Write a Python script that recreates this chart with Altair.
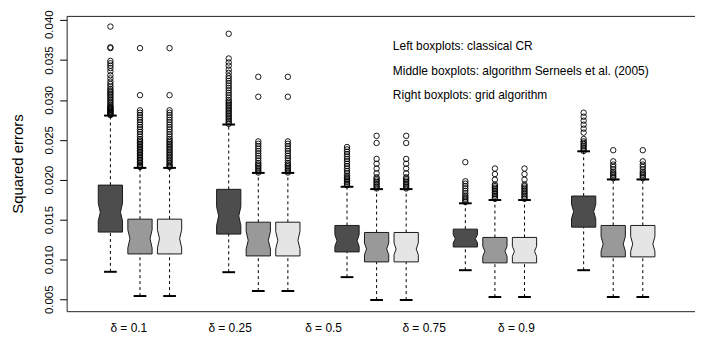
import altair as alt
import pandas as pd

# ---------------- data ----------------
delta_labels = ["δ = 0.1", "δ = 0.25", "δ = 0.5", "δ = 0.75", "δ = 0.9"]
label_pos = [1.605, 5.03, 8.19, 11.59, 14.71]
methods = ["classical CR", "algorithm Serneels et al. (2005)", "grid algorithm"]
method_colors = ["#4d4d4d", "#999999", "#e5e5e5"]

legend_lines = [
    "Left boxplots: classical CR",
    "Middle boxplots: algorithm Serneels et al. (2005)",
    "Right boxplots: grid algorithm",
]
legend_x = [10.55, 10.55, 10.55]
legend_y = [0.03622, 0.03311, 0.03012]

# classical CR (left, dark)
cr_q1 = [0.01343, 0.01318, 0.01094, 0.01156, 0.01405]
cr_med = [0.01592, 0.01546, 0.01235, 0.01260, 0.01600]
cr_q3 = [0.01932, 0.01879, 0.01426, 0.01380, 0.01795]
cr_nlo = [0.01484, 0.01425, 0.01164, 0.01206, 0.01509]
cr_nhi = [0.01704, 0.01662, 0.01310, 0.01310, 0.01692]
cr_wlo = [0.00845, 0.00840, 0.00778, 0.00865, 0.00865]
cr_whi = [0.02804, 0.02692, 0.01911, 0.01704, 0.02356]

# Serneels et al. (middle, medium grey)
se_q1 = [0.01069, 0.01044, 0.00969, 0.00957, 0.01032]
se_med = [0.01260, 0.01239, 0.01131, 0.01102, 0.01194]
se_q3 = [0.01505, 0.01467, 0.01338, 0.01276, 0.01426]
se_nlo = [0.01144, 0.01131, 0.01060, 0.01039, 0.01102]
se_nhi = [0.01372, 0.01351, 0.01206, 0.01164, 0.01288]
se_wlo = [0.00541, 0.00604, 0.00491, 0.00529, 0.00529]
se_whi = [0.02148, 0.02085, 0.01882, 0.01745, 0.02003]

# grid algorithm (right, light grey)
gr_q1 = [0.01069, 0.01044, 0.00969, 0.00957, 0.01032]
gr_med = [0.01260, 0.01239, 0.01131, 0.01102, 0.01194]
gr_q3 = [0.01505, 0.01467, 0.01338, 0.01276, 0.01426]
gr_nlo = [0.01144, 0.01131, 0.01060, 0.01039, 0.01102]
gr_nhi = [0.01372, 0.01351, 0.01206, 0.01164, 0.01288]
gr_wlo = [0.00541, 0.00604, 0.00491, 0.00529, 0.00529]
gr_whi = [0.02148, 0.02085, 0.01882, 0.01745, 0.02003]

# outliers per delta
cr_out = [
    [0.0392, 0.0366, 0.0365, 0.0349, 0.0346, 0.0343, 0.0340, 0.0336, 0.0331, 0.0327,
     0.0323, 0.0320, 0.0317, 0.0314, 0.0312, 0.0310, 0.0308, 0.0306, 0.0304, 0.0302,
     0.0300, 0.0298, 0.0296, 0.0294, 0.0292, 0.0291, 0.0290, 0.0289, 0.0288, 0.0287,
     0.0286, 0.0285, 0.0284, 0.0283, 0.0282, 0.0281],
    [0.0383, 0.0352, 0.0347, 0.0343, 0.0338, 0.0334, 0.0330, 0.0327, 0.0324, 0.0321,
     0.0318, 0.0315, 0.0312, 0.0309, 0.0306, 0.0303, 0.0300, 0.0298, 0.0296, 0.0294,
     0.0292, 0.0290, 0.0288, 0.0286, 0.0284, 0.0282, 0.0280, 0.0278, 0.0276, 0.0274,
     0.0272, 0.0270],
    [0.0241, 0.0238, 0.0235, 0.0232, 0.0229, 0.0226, 0.0223, 0.0220, 0.0217, 0.0214,
     0.0211, 0.0208, 0.0205, 0.0203, 0.0201, 0.0199, 0.0197, 0.0195, 0.0193],
    [0.0222, 0.0198, 0.0195, 0.0192, 0.0189, 0.0186, 0.0183, 0.0180, 0.0178, 0.0176,
     0.0174, 0.0172],
    [0.0284, 0.0279, 0.0274, 0.0269, 0.0264, 0.0259, 0.0251, 0.0248, 0.0246, 0.0244,
     0.0242, 0.0240, 0.0238, 0.0236],
]
se_out = [
    [0.0365, 0.0306, 0.0287, 0.0284, 0.0281, 0.0278, 0.0275, 0.0272, 0.0269, 0.0266,
     0.0263, 0.0260, 0.0257, 0.0254, 0.0251, 0.0249, 0.0247, 0.0245, 0.0243, 0.0241,
     0.0239, 0.0237, 0.0235, 0.0233, 0.0231, 0.0229, 0.0227, 0.0225, 0.0223, 0.0221,
     0.0219, 0.0217, 0.0216],
    [0.0329, 0.0304, 0.0248, 0.0245, 0.0242, 0.0239, 0.0236, 0.0233, 0.0230, 0.0227,
     0.0224, 0.0221, 0.0219, 0.0217, 0.0215, 0.0213, 0.0211, 0.0209],
    [0.0255, 0.0246, 0.0226, 0.0220, 0.0214, 0.0208, 0.0203, 0.0201, 0.0199, 0.0197,
     0.0195, 0.0193, 0.0191, 0.0189],
    [0.0214, 0.0207, 0.0200, 0.0194, 0.0192, 0.0190, 0.0188, 0.0186, 0.0184, 0.0182,
     0.0180, 0.0178, 0.0176],
    [0.0237, 0.0223, 0.0219, 0.0216, 0.0213, 0.0210, 0.0208, 0.0206, 0.0204, 0.0202],
]
gr_out = [
    [0.0365, 0.0306, 0.0287, 0.0284, 0.0281, 0.0278, 0.0275, 0.0272, 0.0269, 0.0266,
     0.0263, 0.0260, 0.0257, 0.0254, 0.0251, 0.0249, 0.0247, 0.0245, 0.0243, 0.0241,
     0.0239, 0.0237, 0.0235, 0.0233, 0.0231, 0.0229, 0.0227, 0.0225, 0.0223, 0.0221,
     0.0219, 0.0217, 0.0216],
    [0.0329, 0.0304, 0.0248, 0.0245, 0.0242, 0.0239, 0.0236, 0.0233, 0.0230, 0.0227,
     0.0224, 0.0221, 0.0219, 0.0217, 0.0215, 0.0213, 0.0211, 0.0209],
    [0.0255, 0.0246, 0.0226, 0.0220, 0.0214, 0.0208, 0.0203, 0.0201, 0.0199, 0.0197,
     0.0195, 0.0193, 0.0191, 0.0189],
    [0.0214, 0.0207, 0.0200, 0.0194, 0.0192, 0.0190, 0.0188, 0.0186, 0.0184, 0.0182,
     0.0180, 0.0178, 0.0176],
    [0.0237, 0.0223, 0.0219, 0.0216, 0.0213, 0.0210, 0.0208, 0.0206, 0.0204, 0.0202],
]

# ---------------- build tables ----------------
stats = [
    (cr_q1, cr_med, cr_q3, cr_nlo, cr_nhi, cr_wlo, cr_whi, cr_out),
    (se_q1, se_med, se_q3, se_nlo, se_nhi, se_wlo, se_whi, se_out),
    (gr_q1, gr_med, gr_q3, gr_nlo, gr_nhi, gr_wlo, gr_whi, gr_out),
]

HALF = 0.41     # half box width (x units)
NOTCH = 0.07    # notch indentation
CAP = 0.215     # half staple width

box_rows, whisk_rows, cap_rows, out_rows = [], [], [], []
for j, (q1, med, q3, nlo, nhi, wlo, whi, outs) in enumerate(stats):
    for g in range(len(delta_labels)):
        p = 4 * g + j + 1
        bid = f"{g}-{j}"
        for yv, ind in [(q1[g], 0), (nlo[g], 0), (med[g], NOTCH), (nhi[g], 0), (q3[g], 0)]:
            box_rows.append({"box": bid, "method": methods[j], "y": yv,
                             "x": p - HALF + ind, "x2": p + HALF - ind})
        whisk_rows.append({"x": p, "y": q3[g], "y2": whi[g]})
        whisk_rows.append({"x": p, "y": wlo[g], "y2": q1[g]})
        cap_rows.append({"x": p - CAP, "x2": p + CAP, "y": whi[g]})
        cap_rows.append({"x": p - CAP, "x2": p + CAP, "y": wlo[g]})
        for v in outs[g]:
            out_rows.append({"x": p, "y": v})

boxes = pd.DataFrame(box_rows)
whisk = pd.DataFrame(whisk_rows)
caps = pd.DataFrame(cap_rows)
outl = pd.DataFrame(out_rows)
legend = pd.DataFrame({"x": legend_x, "y": legend_y, "t": legend_lines})

FONT = "Liberation Sans, Arial, Helvetica, sans-serif"

# label expression for x axis
expr = f"'{delta_labels[-1]}'"
for i in range(len(label_pos) - 2, -1, -1):
    mid = (label_pos[i] + label_pos[i + 1]) / 2
    expr = f"datum.value < {mid} ? '{delta_labels[i]}' : ({expr})"

xs = alt.Scale(domain=[-0.479, 20.765], nice=False, zero=False)
ys = alt.Scale(domain=[0.00351, 0.04054], nice=False, zero=False)

xaxis = alt.Axis(values=label_pos, labelExpr=expr, ticks=False, domain=False, grid=False,
                 title=None, labelFont=FONT, labelFontSize=12, labelColor="black",
                 labelPadding=11, labelFlush=False)
yaxis = alt.Axis(values=[0.005, 0.010, 0.015, 0.020, 0.025, 0.030, 0.035, 0.040],
                 format=".3f", grid=False, domain=False, ticks=True, tickSize=7,
                 tickColor="black", labelAngle=-90, labelAlign="center",
                 labelBaseline="alphabetic", labelPadding=7, labelFont=FONT,
                 labelFontSize=11.5, labelColor="black", labelFlush=False,
                 labelOffset=alt.condition("datum.value > 0.0399", alt.value(4), alt.value(0)),
                 title="Squared errors", titleFont=FONT, titleFontSize=15,
                 titleFontWeight="normal", titleColor="black", titleX=-49.5,
                 titleY=148.5, titleAlign="center", titleBaseline="middle",
                 titleAngle=-90)

X = alt.X("x:Q", scale=xs, axis=xaxis)
Y = alt.Y("y:Q", scale=ys, axis=yaxis)

whisk_layer = alt.Chart(whisk).mark_rule(color="black", strokeWidth=1, strokeDash=[3, 3]).encode(
    x=X, y=Y, y2="y2:Q")

box_layer = alt.Chart(boxes).mark_area(orient="horizontal", stroke="#1a1a1a", strokeWidth=1,
                                       opacity=1, strokeJoin="miter").encode(
    y=Y, x=X, x2="x2:Q", detail="box:N",
    fill=alt.Fill("method:N", scale=alt.Scale(domain=methods, range=method_colors), legend=None))

cap_layer = alt.Chart(caps).mark_rule(color="black", strokeWidth=2).encode(
    x=X, x2="x2:Q", y=Y)

out_layer = alt.Chart(outl).mark_point(shape="circle", filled=False, size=30, color="black",
                                       strokeWidth=0.9, opacity=1).encode(x=X, y=Y)

text_layer = alt.Chart(legend).mark_text(align="left", baseline="alphabetic", font=FONT,
                                         fontSize=12, color="black").encode(x=X, y=Y, text="t:N")

chart = alt.layer(whisk_layer, box_layer, cap_layer, out_layer, text_layer).properties(
    width=632, height=297,
    padding={"left": 59, "top": 7, "right": 0, "bottom": 22},
    autosize=alt.AutoSizeParams(type="none"),
    background="white",
).configure_view(stroke="#222222", strokeWidth=1)

chart.save("out.html", embed_options={"renderer": "svg", "actions": False})
